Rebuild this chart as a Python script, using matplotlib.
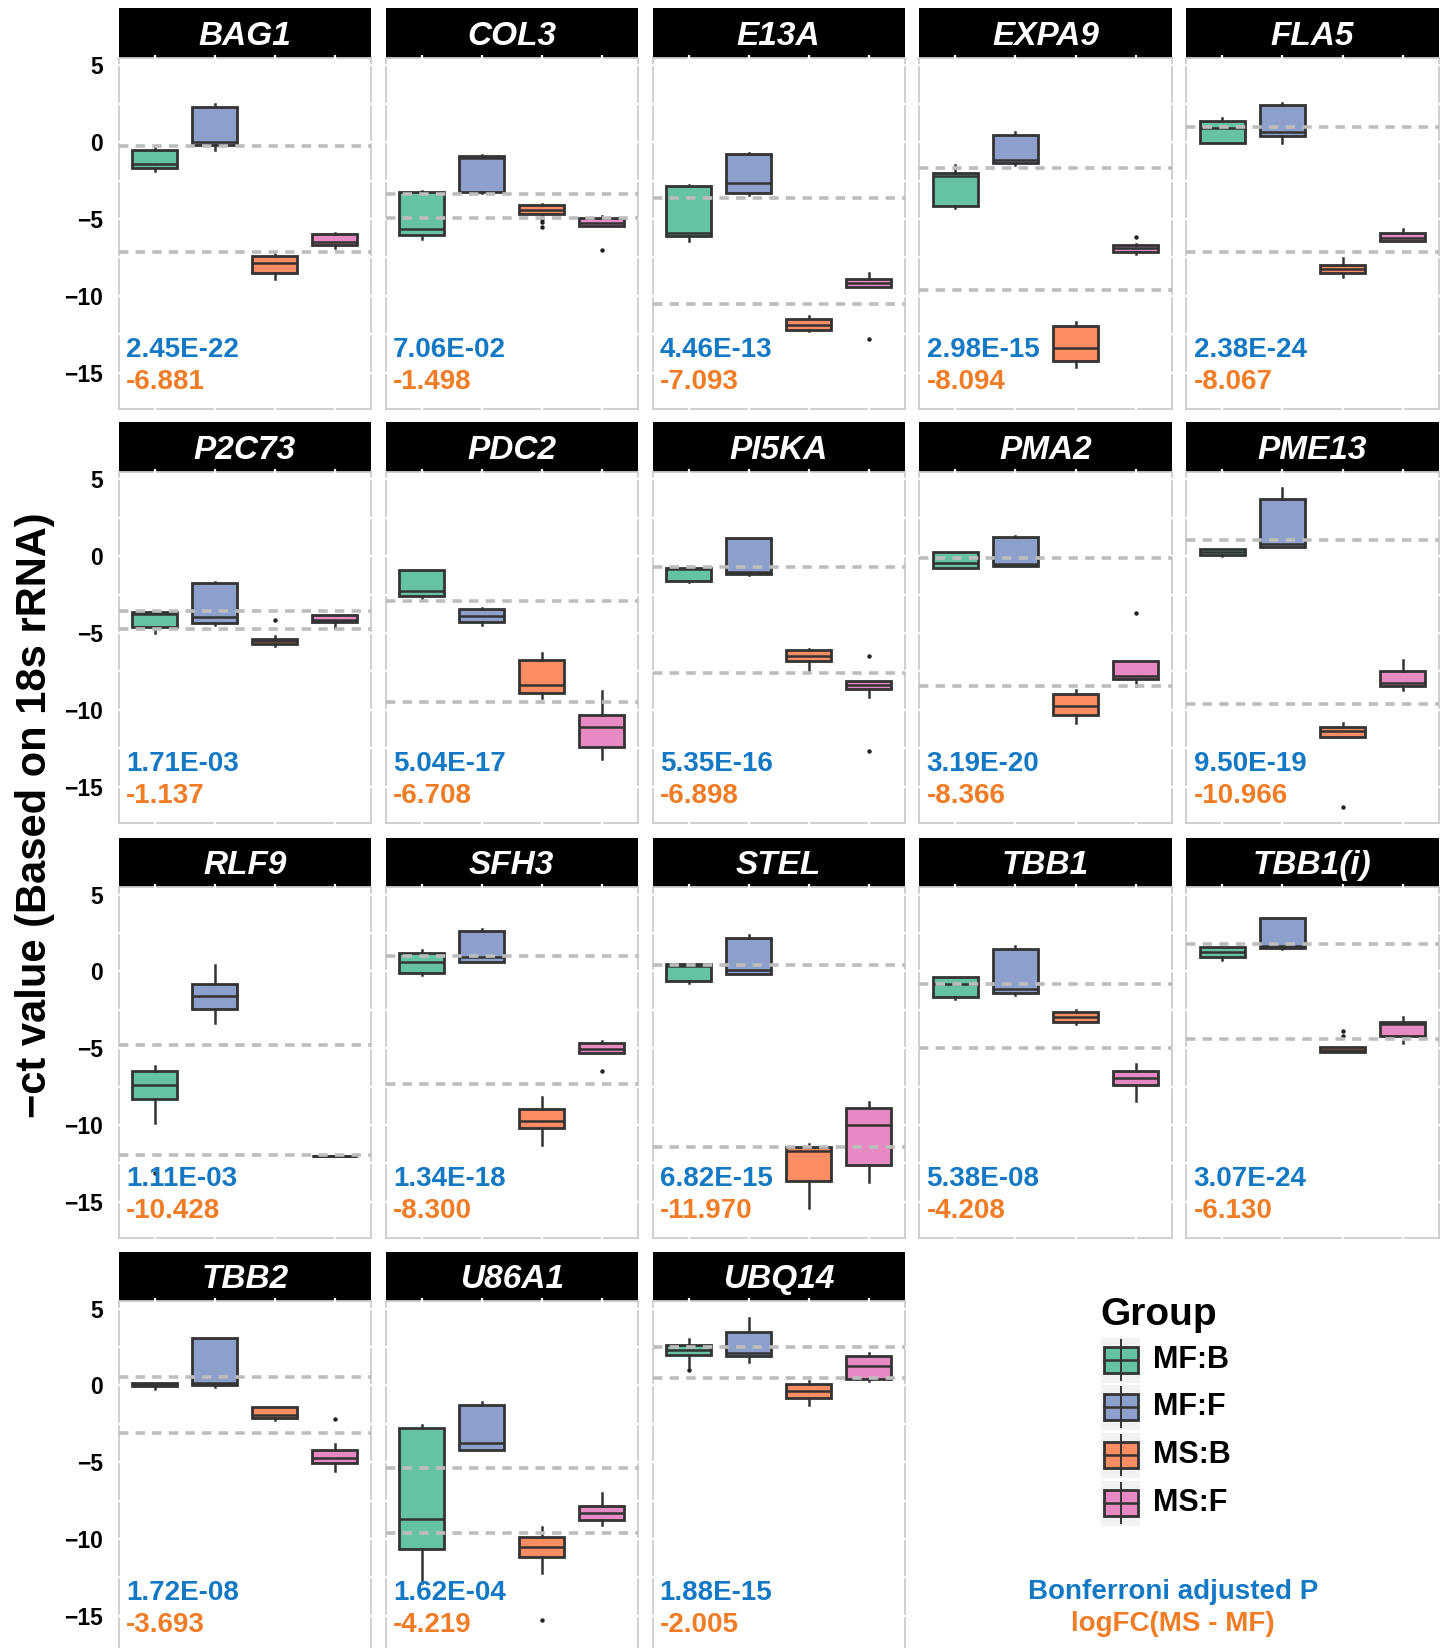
import matplotlib
matplotlib.use('Agg')
import matplotlib.pyplot as plt
from matplotlib.patches import Rectangle
from matplotlib.ticker import MultipleLocator

plt.rcParams['font.family'] = ['Liberation Sans', 'DejaVu Sans']

genes = ['BAG1', 'COL3', 'E13A', 'EXPA9', 'FLA5',
         'P2C73', 'PDC2', 'PI5KA', 'PMA2', 'PME13',
         'RLF9', 'SFH3', 'STEL', 'TBB1', 'TBB1(i)',
         'TBB2', 'U86A1', 'UBQ14']
groups = ['MF:B', 'MF:F', 'MS:B', 'MS:F']
colors = ['#66c2a5', '#8da0cb', '#fc8d62', '#e78ac3']

pvals = ['2.45E-22', '7.06E-02', '4.46E-13', '2.98E-15', '2.38E-24',
         '1.71E-03', '5.04E-17', '5.35E-16', '3.19E-20', '9.50E-19',
         '1.11E-03', '1.34E-18', '6.82E-15', '5.38E-08', '3.07E-24',
         '1.72E-08', '1.62E-04', '1.88E-15']
logfc = ['-6.881', '-1.498', '-7.093', '-8.094', '-8.067',
         '-1.137', '-6.708', '-6.898', '-8.366', '-10.966',
         '-10.428', '-8.300', '-11.970', '-4.208', '-6.130',
         '-3.693', '-4.219', '-2.005']

# box stats per gene, one value per group (None = not measured)
lo = [[-1.89, -0.48, -8.87, -6.87], [-6.30, -3.33, -4.78, -5.43], [-6.43, -3.41, -12.30, -9.41],
      [-4.30, -1.48, -14.65, -7.30], [-0.02, -0.04, -8.80, -6.41],
      [-4.98, -4.46, -5.85, -4.64], [-2.86, -4.46, -9.23, -13.17], [-1.69, -1.19, -7.45, -9.14],
      [-0.74, -0.63, -10.86, -8.45], [0.00, 0.63, -11.79, -8.69],
      [-9.88, -3.34, None, -12.0], [-0.22, 0.61, -11.33, -5.31], [-0.76, -0.20, -15.38, -13.72],
      [-1.80, -1.52, -3.42, -8.41], [0.72, 1.43, -5.27, -4.68],
      [-0.22, -0.10, -2.25, -5.57], [-12.87, -4.18, -12.22, -9.12], [1.20, 1.50, -1.30, 0.26]]
q1 = [[-1.70, -0.17, -8.48, -6.70], [-6.02, -3.26, -4.67, -5.43], [-6.11, -3.30, -12.24, -9.41],
      [-4.13, -1.35, -14.22, -7.13], [-0.02, 0.43, -8.50, -6.41],
      [-4.59, -4.36, -5.70, -4.31], [-2.58, -4.27, -8.91, -12.44], [-1.58, -1.13, -6.80, -8.62],
      [-0.74, -0.63, -10.31, -8.00], [0.11, 0.63, -11.79, -8.45],
      [-8.28, -2.47, None, -12.0], [-0.11, 0.61, -10.21, -5.31], [-0.61, -0.20, -13.63, -12.61],
      [-1.67, -1.41, -3.32, -7.41], [0.91, 1.52, -5.27, -4.18],
      [-0.02, 0.00, -2.15, -5.05], [-10.62, -4.18, -11.14, -8.78], [2.00, 1.89, -0.82, 0.41]]
med = [[-1.43, 0.00, -7.83, -6.46], [-5.67, -1.04, -4.39, -5.24], [-5.93, -2.67, -11.91, -9.15],
       [-2.20, -1.17, -13.41, -6.91], [0.96, 0.65, -8.26, -6.22],
       [-3.77, -3.92, -5.53, -4.12], [-2.23, -3.86, -8.36, -11.09], [-0.80, -1.00, -6.46, -8.39],
       [-0.43, -0.52, -9.77, -7.78], [0.30, 0.82, -11.38, -8.23],
       [-7.41, -1.63, None, -12.0], [0.63, 0.95, -9.71, -5.05], [0.37, 0.09, -11.68, -9.99],
       [-0.82, -1.13, -2.99, -6.93], [1.28, 1.65, -5.09, -3.45],
       [0.10, 0.13, -1.91, -4.72], [-8.73, -3.77, -10.55, -8.34], [2.28, 2.12, -0.35, 1.28]]
q3 = [[-0.48, 2.30, -7.41, -5.98], [-3.24, -0.89, -4.11, -4.93], [-2.85, -0.78, -11.48, -8.93],
      [-2.00, 0.48, -11.96, -6.70], [1.41, 2.43, -7.98, -5.91],
      [-3.62, -1.76, -5.37, -3.84], [-0.87, -3.42, -6.74, -10.31], [-0.74, 1.21, -6.11, -8.15],
      [0.30, 1.26, -8.95, -6.80], [0.50, 3.71, -11.12, -7.45],
      [-6.46, -0.82, None, -12.0], [1.17, 2.64, -8.95, -4.66], [0.50, 2.19, -11.46, -8.91],
      [-0.39, 1.45, -2.67, -6.46], [1.60, 3.47, -4.92, -3.27],
      [0.17, 3.06, -1.39, -4.18], [-2.77, -1.26, -9.84, -7.87], [2.63, 3.45, 0.09, 1.91]]
hi = [[-0.37, 2.48, -7.30, -5.93], [-3.15, -0.80, -4.02, -4.78], [-2.76, -0.67, -11.30, -8.54],
      [-1.48, 0.65, -11.70, -6.59], [1.61, 2.57, -7.52, -5.65],
      [-3.55, -1.65, -5.16, -3.80], [-0.87, -3.34, -6.28, -8.80], [-0.74, 1.21, -6.02, -8.15],
      [0.30, 1.34, -8.69, -6.80], [0.50, 4.42, -10.86, -6.74],
      [-6.18, 0.41, None, -12.0], [1.39, 2.73, -8.19, -4.55], [0.50, 2.36, -11.22, -8.52],
      [-0.39, 1.65, -2.51, -6.02], [1.60, 3.47, -4.92, -2.99],
      [0.17, 3.06, -1.39, -3.84], [-2.60, -1.11, -9.19, -7.00], [3.00, 4.38, 0.30, 2.10]]
outliers = [[[], [], [], []], [[], [], [-5.00, -5.17, -5.50], [-7.04]], [[], [], [], [-12.78]],
            [[], [], [], [-6.15]], [[], [], [], []],
            [[], [], [-4.18], []], [[], [], [], []], [[], [], [], [-6.52, -12.70]],
            [[], [], [], [-3.71]], [[], [], [-16.32], []],
            [[-13.13], [], [], []], [[], [], [], [-6.46]], [[], [], [], []],
            [[], [], [], []], [[], [], [-3.90, -4.23], []],
            [[], [], [], [-2.21]], [[], [], [-15.30], []], [[1.00], [], [], []]]
# group means used for the dashed reference lines (MF, MS)
mean_mf = [-0.24, -3.39, -3.61, -1.70, 0.98, -3.58, -2.88, -0.67, -0.09, 1.06,
           -4.77, 0.98, 0.39, -0.80, 1.78, 0.56, -5.35, 2.47]
mean_ms = [-7.17, -4.91, -10.52, -9.59, -7.15, -4.75, -9.51, -7.58, -8.47, -9.62,
           -11.98, -7.30, -11.40, -5.01, -4.38, -3.12, -9.58, 0.46]

W, H = 1447, 1648
fig = plt.figure(figsize=(W / 100, H / 100), dpi=100)

col_x = [118.7, 385.6, 652.5, 919.4, 1186.4]
row_y = [8.4, 422.4, 837.5, 1251.5]
pw, sh, ph = 252.2, 49.4, 351.0
blue_txt, orange_txt = '#1479c4', '#f07d26'
edge = '#333333'

for i, g in enumerate(genes):
    r, c = divmod(i, 5)
    x0 = col_x[c]
    top = row_y[r]
    sax = fig.add_axes([x0 / W, 1 - (top + sh) / H, pw / W, sh / H])
    sax.set_facecolor('black')
    sax.set_xticks([]); sax.set_yticks([])
    for s in sax.spines.values():
        s.set_visible(False)
    sax.text(0.5, 0.43, g, color='white', fontsize=24, fontweight='bold', style='italic',
             ha='center', va='center', transform=sax.transAxes)

    ax = fig.add_axes([x0 / W, 1 - (top + sh + ph) / H, pw / W, ph / H])
    stats, pos, cols = [], [], []
    for j in range(4):
        if med[i][j] is None:
            continue
        stats.append(dict(whislo=lo[i][j], q1=q1[i][j], med=med[i][j], q3=q3[i][j],
                          whishi=hi[i][j], fliers=outliers[i][j]))
        pos.append(j + 1)
        cols.append(colors[j])
    bp = ax.bxp(stats, positions=pos, widths=0.75, patch_artist=True, showcaps=False,
                manage_ticks=False,
                boxprops=dict(edgecolor=edge, linewidth=2.0),
                medianprops=dict(color=edge, linewidth=1.8),
                whiskerprops=dict(color=edge, linewidth=1.8),
                flierprops=dict(marker='o', markersize=3.2, markerfacecolor='#222222',
                                markeredgecolor='none'))
    for patch, col in zip(bp['boxes'], cols):
        patch.set_facecolor(col)
    ax.axhline(mean_mf[i], color='#bdbdbd', lw=2.6, ls=(0, (2.6, 2)), zorder=5)
    ax.axhline(mean_ms[i], color='#bdbdbd', lw=2.6, ls=(0, (2.6, 2)), zorder=5)

    ax.text(0.52, -13.5, pvals[i], color=blue_txt, fontsize=20, fontweight='bold',
            ha='left', va='center')
    ax.text(0.52, -15.6, logfc[i], color=orange_txt, fontsize=20, fontweight='bold',
            ha='left', va='center')

    ax.set_xlim(0.4, 4.6)
    ax.set_ylim(-17.35, 5.5)
    ax.set_xticks([1, 2, 3, 4])
    ax.yaxis.set_major_locator(MultipleLocator(5))
    ax.yaxis.set_minor_locator(MultipleLocator(2.5))
    ax.tick_params(which='both', direction='inout', length=5, width=1.6, color='white',
                   top=True, right=True, bottom=True, left=True, labelbottom=False,
                   labelleft=(c == 0), labelsize=16.5, pad=9)
    for lab in ax.get_yticklabels():
        lab.set_fontweight('bold')
    for s in ax.spines.values():
        s.set_color('#cccccc')
        s.set_linewidth(1.3)
        s.set_zorder(1)

fig.text(35 / W, 1 - 815 / H, '\u2212ct value (Based on 18s rRNA)', rotation=90,
         fontsize=30, fontweight='bold', ha='center', va='center')

# legend drawn in pixel coordinates
lax = fig.add_axes([0, 0, 1, 1])
lax.set_xlim(0, W)
lax.set_ylim(H, 0)
lax.axis('off')
lax.text(1100, 1315, 'Group', fontsize=28, fontweight='bold', ha='left', va='center')
key_y = [1360, 1407, 1455, 1503]
for g, col, ky in zip(groups, colors, key_y):
    lax.add_patch(Rectangle((1101, ky - 22.5), 39, 45, facecolor='#f2f2f2', edgecolor='none'))
    lax.plot([1120.5, 1120.5], [ky - 20, ky + 20], color=edge, lw=1.4)
    lax.add_patch(Rectangle((1103.5, ky - 13), 34, 26, facecolor=col, edgecolor=edge, lw=2.0))
    lax.plot([1103.5, 1137.5], [ky, ky], color=edge, lw=1.8)
    lax.text(1153, ky, g, fontsize=22, fontweight='bold', ha='left', va='center')
lax.text(1173, 1592, 'Bonferroni adjusted P', color=blue_txt, fontsize=20,
         fontweight='bold', ha='center', va='center')
lax.text(1173, 1624, 'logFC(MS - MF)', color=orange_txt, fontsize=20,
         fontweight='bold', ha='center', va='center')

fig.savefig('out.png', dpi=100)
